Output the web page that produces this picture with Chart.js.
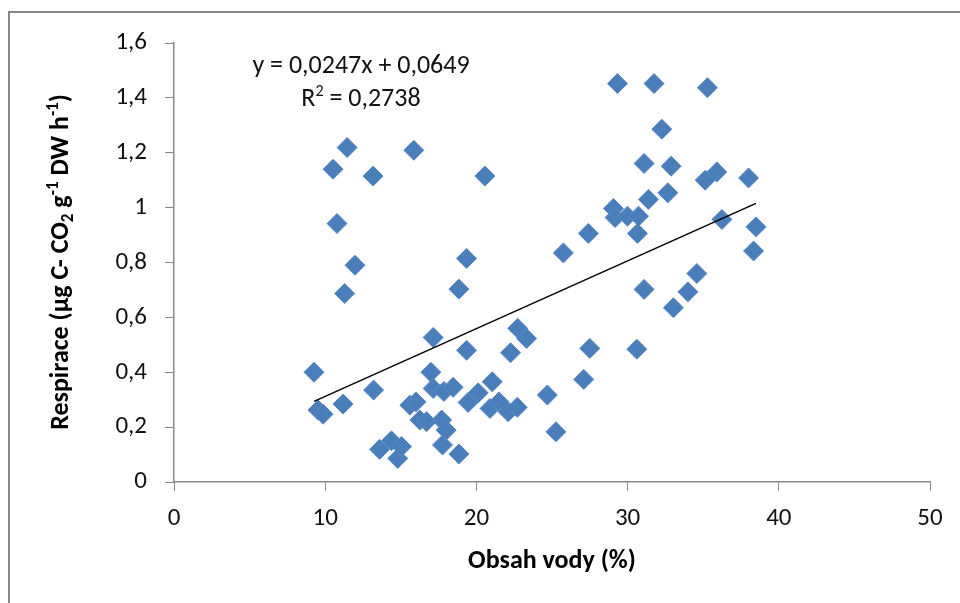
<!DOCTYPE html>
<html>
<head>
<meta charset="utf-8">
<script src="https://cdn.jsdelivr.net/npm/chart.js@4.4.1/dist/chart.umd.min.js"></script>
<style>
html,body{margin:0;padding:0;background:#fff;}
canvas{display:block;}
</style>
</head>
<body>
<canvas id="c" width="960" height="603"></canvas>
<script>
// ---- data ----
const waterContent = [9.26, 9.52, 9.86, 10.52, 10.78, 11.18, 11.29, 11.45, 11.97, 13.17,
  13.2, 13.6, 14.38, 14.8, 15.05, 15.6, 15.86, 16.0, 16.26, 16.7,
  16.99, 17.14, 17.14, 17.7, 17.76, 17.85, 18.0, 18.46, 18.84, 18.84,
  19.35, 19.35, 19.45, 20.12, 20.56, 20.9, 21.05, 21.5, 22.1, 22.26,
  22.7, 22.73, 23.32, 24.69, 25.26, 25.75, 27.1, 27.4, 27.5, 29.06,
  29.17, 29.33, 29.99, 30.61, 30.65, 30.72, 31.09, 31.09, 31.38, 31.75,
  32.26, 32.66, 32.88, 33.03, 33.99, 34.58, 35.13, 35.28, 35.9, 36.24,
  38.0, 38.33, 38.49];
const respiration = [0.40, 0.262, 0.247, 1.14, 0.942, 0.284, 0.687, 1.219, 0.79, 1.115,
  0.335, 0.119, 0.15, 0.086, 0.129, 0.28, 1.209, 0.292, 0.226, 0.22,
  0.40, 0.527, 0.341, 0.226, 0.135, 0.33, 0.189, 0.345, 0.703, 0.102,
  0.815, 0.48, 0.29, 0.325, 1.115, 0.268, 0.365, 0.292, 0.256, 0.471,
  0.272, 0.56, 0.523, 0.317, 0.183, 0.835, 0.374, 0.906, 0.487, 0.997,
  0.964, 1.452, 0.969, 0.484, 0.906, 0.969, 1.161, 0.702, 1.03, 1.452,
  1.286, 1.054, 1.151, 0.635, 0.693, 0.76, 1.10, 1.437, 1.13, 0.957,
  1.108, 0.842, 0.93];
const trendSlope = 0.0247;
const trendIntercept = 0.0649;
const xTickLabels = ['0', '10', '20', '30', '40', '50'];
const yTickLabels = ['0', '0,2', '0,4', '0,6', '0,8', '1', '1,2', '1,4', '1,6'];
const xTitle = 'Obsah vody (%)';
const equationText = 'y = 0,0247x + 0,0649';
const r2Text = ' = 0,2738';

const FONT = 'Carlito, Calibri, "Open Sans", sans-serif';

const points = waterContent.map((x, i) => ({x: x, y: respiration[i]}));
const xMin = Math.min(...waterContent), xMax = Math.max(...waterContent);
const trend = [xMin, xMax].map(x => ({x: x, y: trendSlope * x + trendIntercept}));

function drawRich(ctx, segs, x, y, align) {
  // segs: [text, size, weight, dy]
  let total = 0;
  segs.forEach(s => { ctx.font = s[2] + ' ' + s[1] + 'px ' + FONT; total += ctx.measureText(s[0]).width; });
  let cx = align === 'center' ? x - total / 2 : x;
  ctx.textAlign = 'left';
  ctx.textBaseline = 'alphabetic';
  segs.forEach(s => {
    ctx.font = s[2] + ' ' + s[1] + 'px ' + FONT;
    ctx.fillText(s[0], cx, y + s[3]);
    cx += ctx.measureText(s[0]).width;
  });
}

const decor = {
  id: 'decor',
  beforeDraw(chart) {
    const ctx = chart.ctx;
    ctx.save();
    ctx.fillStyle = '#fff';
    ctx.fillRect(0, 0, chart.width, chart.height);
    ctx.strokeStyle = '#888';
    ctx.lineWidth = 2;
    ctx.strokeRect(9, 12, 1000, 1000);
    ctx.restore();
  },
  afterDraw(chart) {
    const ctx = chart.ctx;
    ctx.save();
    ctx.fillStyle = '#000';
    // x title
    ctx.font = 'bold 26px ' + FONT;
    ctx.textAlign = 'center';
    ctx.textBaseline = 'alphabetic';
    ctx.fillText(xTitle, 552, 568);
    // equation
    ctx.fillStyle = '#111';
    ctx.font = '26px ' + FONT;
    ctx.fillText(equationText, 361, 73);
    drawRich(ctx, [['R', 26, 'normal', 0], ['2', 16, 'normal', -10], [r2Text, 26, 'normal', 0]], 361, 106, 'center');
    // y title rotated
    ctx.fillStyle = '#000';
    ctx.translate(68, 262);
    ctx.rotate(-Math.PI / 2);
    drawRich(ctx, [
      ['Respirace (\u00b5g C- CO', 26, 'bold', 0],
      ['2', 17, 'bold', 5],
      [' g', 26, 'bold', 0],
      ['-1', 17, 'bold', -10],
      [' DW h', 26, 'bold', 0],
      ['-1', 17, 'bold', -10],
      [')', 26, 'bold', 0]
    ], 0, 0, 'center');
    ctx.restore();
  }
};

new Chart(document.getElementById('c'), {
  type: 'scatter',
  data: {
    datasets: [
      {
        data: points,
        pointStyle: 'rectRot',
        pointRadius: 10,
        pointHoverRadius: 10,
        backgroundColor: '#4a7ebb',
        borderColor: '#5a8ac4',
        borderWidth: 1,
        order: 2
      },
      {
        type: 'line',
        data: trend,
        borderColor: '#000',
        borderWidth: 1.5,
        pointRadius: 0,
        fill: false,
        order: 1
      }
    ]
  },
  options: {
    responsive: false,
    animation: false,
    devicePixelRatio: 1,
    layout: {padding: {top: 43, right: 30, left: 0, bottom: 0}},
    plugins: {legend: {display: false}, tooltip: {enabled: false}},
    scales: {
      x: {
        type: 'linear', min: 0, max: 50,
        ticks: {
          stepSize: 10, color: '#111', padding: 13,
          font: {family: FONT, size: 25},
          callback: (v, i) => xTickLabels[i]
        },
        grid: {drawOnChartArea: false, drawTicks: true, tickLength: 9, color: '#888', lineWidth: 1},
        border: {display: true, color: '#888', width: 1.5},
        afterFit: s => { s.height = 121; }
      },
      y: {
        type: 'linear', min: 0, max: 1.6,
        ticks: {
          stepSize: 0.2, color: '#111', padding: 18,
          font: {family: FONT, size: 25},
          callback: (v, i) => yTickLabels[i]
        },
        grid: {drawOnChartArea: false, drawTicks: true, tickLength: 9, color: '#888', lineWidth: 1},
        border: {display: true, color: '#888', width: 1.5},
        afterFit: s => { s.width = 174; }
      }
    }
  },
  plugins: [decor]
});
</script>
</body>
</html>
